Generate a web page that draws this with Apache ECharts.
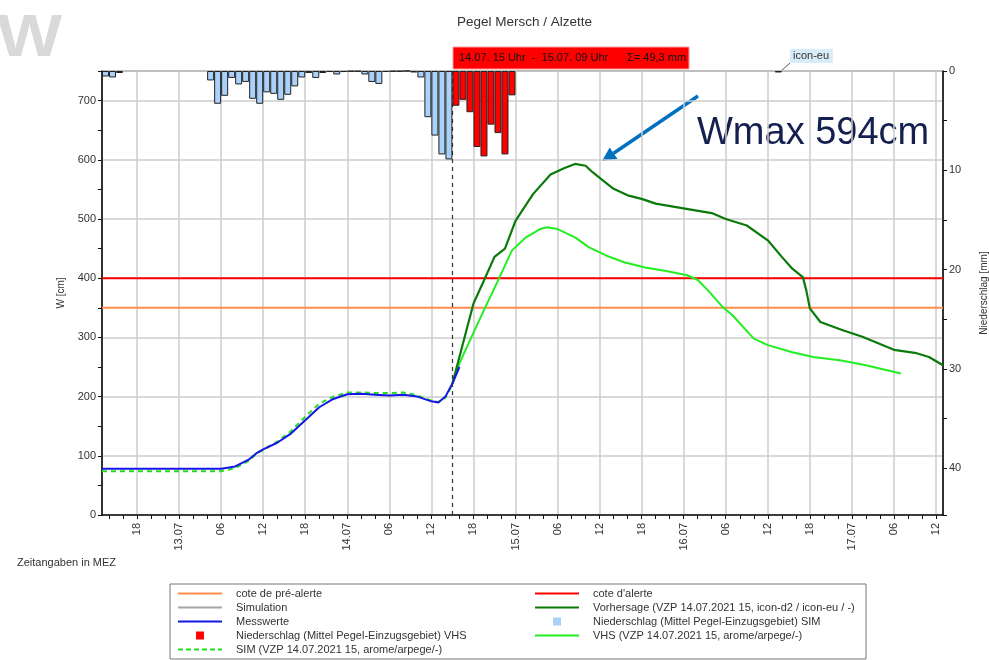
<!DOCTYPE html>
<html>
<head>
<meta charset="utf-8">
<title>Pegel Mersch / Alzette</title>
<script src="https://cdn.jsdelivr.net/npm/echarts@6/dist/echarts.min.js"></script>
<style>
  html, body { margin: 0; padding: 0; background: #fff; }
  #chart { width: 989px; height: 660px; }
</style>
</head>
<body>
<div id="chart"></div>
<script>
// x = hours since 12.07.2021 00:00 (MEZ)
var tMin = 13
var tMax = 133
var labelHours = [18, 24, 30, 36, 42, 48, 54, 60, 66, 72, 78, 84, 90, 96, 102, 108, 114, 120, 126, 132]

var alertLevel = 400
var preAlertLevel = 350

// Messwerte
var messT = [13, 30, 32, 34, 35, 36, 38, 40, 42, 44, 46, 48, 50, 52, 54, 56, 58, 60, 61, 62, 63, 64]
var messW = [78, 78, 82, 94, 104, 111, 122, 138, 160, 182, 196, 204, 205, 203, 202, 203, 200, 192, 190, 200, 222, 250]

// SIM (VZP 14.07.2021 15, arome/arpege/-)
var simT = [13, 30, 32, 34, 35, 36, 38, 40, 42, 44, 46, 48, 50, 52, 54, 56, 58, 60, 61, 62, 63]
var simW = [74, 74, 79, 92, 103, 110, 124, 142, 166, 188, 200, 207, 207, 206, 206, 207, 202, 193, 191, 198, 220]

// Vorhersage (icon-d2 / icon-eu)
var vorT = [63, 64, 65, 66, 67.5, 69, 70.5, 72, 74.5, 77, 79, 80.5, 82, 83, 84.5, 86, 88, 90, 92, 94.5, 98.5, 100, 102, 105, 108, 110, 111.5, 113, 113.5, 114, 115.5, 118.5, 121.5, 126, 129, 131, 133]
var vorW = [222, 267, 312, 357, 396, 436, 450, 497, 542, 575, 586, 593, 590, 579, 565, 551, 540, 534, 526, 521, 513, 510, 500, 489, 464, 436, 416, 402, 379, 349, 326, 313, 301, 279, 274, 267, 253]

// VHS (arome/arpege)
var vhsT = [63, 64, 65.5, 67.5, 69.5, 71.5, 73.5, 75.5, 76.5, 78, 80.5, 82.5, 85, 87.5, 90.5, 93.5, 96.5, 98, 99.5, 101.5, 103, 106, 108, 111.5, 114.5, 118.5, 122, 127]
var vhsW = [222, 256, 295, 346, 396, 447, 469, 483, 486, 483, 469, 452, 438, 427, 418, 412, 405, 397, 379, 352, 337, 298, 287, 275, 267, 261, 253, 239]

// Niederschlag, hourly sums [mm], hour start
var rainSimHour = [13, 14, 15, 28, 29, 30, 31, 32, 33, 34, 35, 36, 37, 38, 39, 40, 41, 42, 43, 44, 45, 46, 47, 48, 49, 50, 51, 52, 53, 54, 55, 56, 57, 58, 59, 60, 61, 62]
var rainSimMm = [0.55, 0.65, 0.2, 0.95, 3.3, 2.5, 0.7, 1.35, 1.1, 2.8, 3.3, 2.15, 2.3, 2.9, 2.4, 1.55, 0.65, 0.2, 0.7, 0.2, 0.1, 0.35, 0.1, 0.05, 0.05, 0.35, 1.1, 1.3, 0.1, 0.05, 0.05, 0, 0.15, 0.65, 4.65, 6.5, 8.4, 8.9]
var rainVhsHour = [63, 64, 65, 66, 67, 68, 69, 70, 71, 109]
var rainVhsMm = [3.5, 2.9, 4.15, 7.65, 8.6, 5.4, 6.25, 8.4, 2.45, 0.15]

var forecastStart = 63

function zip(xs, ys) {
  return xs.map(function (x, i) { return [x, ys[i]] })
}
function bars(hours, mm) {
  return hours.map(function (h, i) { return [h + 0.5, mm[i]] })
}
function pad(n) {
  return (n < 10 ? '0' : '') + n
}

var tickHours = []
for (var t = 14; t <= 132; t += 2) tickHours.push(t)

var font = 'Liberation Sans, Arial, sans-serif'
var names = {
  pre: 'cote de pré-alerte',
  alert: 'cote d\'alerte',
  simu: 'Simulation',
  vor: 'Vorhersage (VZP 14.07.2021 15, icon-d2 / icon-eu / -)',
  mess: 'Messwerte',
  rainSim: 'Niederschlag (Mittel Pegel-Einzugsgebiet) SIM',
  rainVhs: 'Niederschlag (Mittel Pegel-Einzugsgebiet) VHS',
  vhs: 'VHS (VZP 14.07.2021 15, arome/arpege/-)',
  sim: 'SIM (VZP 14.07.2021 15, arome/arpege/-)'
}
// legend icons, 44x10 boxes (tiny corner dots keep the box size)
var box = 'M0,0 L0.01,0 L0,0.01 Z M44,10 L43.99,10 L44,9.99 Z '
var squareIcon = 'path://' + box + 'M18,1 L26,1 L26,9 L18,9 Z'
var lineIcon = 'path://' + box + 'M0,4 L44,4 L44,6 L0,6 Z'
var dashIcon = 'path://' + box + 'M0,4 h5 v2 h-5 Z M8,4 h5 v2 h-5 Z M16,4 h5 v2 h-5 Z M24,4 h5 v2 h-5 Z M32,4 h5 v2 h-5 Z M40,4 h4 v2 h-4 Z'

function legendBox(left, items) {
  return {
    left: left,
    top: 588,
    orient: 'vertical',
    padding: 0,
    itemWidth: 44,
    itemHeight: 10,
    itemGap: 3,
    selectedMode: false,
    textStyle: { fontFamily: font, fontSize: 11, color: '#333', padding: [0, 0, 0, 9] },
    data: items
  }
}

var chart = echarts.init(document.getElementById('chart'))

chart.setOption({
  animation: false,
  title: {
    text: 'Pegel Mersch / Alzette',
    left: 452,
    top: 10,
    textStyle: { fontFamily: font, fontSize: 13.5, fontWeight: 'normal', color: '#333' }
  },
  grid: {
    left: 102,
    right: 46,
    top: 71,
    bottom: 145,
    outerBoundsMode: 'none',
    show: true,
    borderColor: '#333',
    borderWidth: 1
  },
  legend: [
    legendBox(178, [
      { name: names.pre, icon: lineIcon },
      { name: names.simu, icon: lineIcon },
      { name: names.mess, icon: lineIcon },
      { name: names.rainVhs, icon: squareIcon, itemStyle: { borderWidth: 0 } },
      { name: names.sim, icon: dashIcon }
    ]),
    legendBox(535, [
      { name: names.alert, icon: lineIcon },
      { name: names.vor, icon: lineIcon },
      { name: names.rainSim, icon: squareIcon, itemStyle: { borderWidth: 0 } },
      { name: names.vhs, icon: lineIcon }
    ])
  ],
  xAxis: [{
    type: 'value',
    min: tMin,
    max: tMax,
    axisLine: { lineStyle: { color: '#111', width: 1.5 } },
    axisTick: { customValues: tickHours, length: 4, lineStyle: { color: '#111' } },
    axisLabel: {
      customValues: labelHours,
      rotate: 90,
      margin: 8,
      fontFamily: font,
      fontSize: 11,
      color: '#333',
      formatter: function (v) {
        if (v % 24 === 0) return pad(12 + v / 24) + '.07'
        return pad(v % 24)
      }
    },
    splitLine: { show: false }
  }, {
    type: 'value',
    min: tMin,
    max: tMax,
    axisLine: { show: false },
    axisTick: { show: false, customValues: labelHours },
    axisLabel: { show: false },
    splitLine: { show: true, lineStyle: { color: '#cccccc', width: 1.5 } }
  }],
  yAxis: [{
    type: 'value',
    min: 0,
    max: 750,
    interval: 100,
    name: 'W [cm]',
    nameLocation: 'middle',
    nameGap: 33,
    nameTextStyle: { fontFamily: font, fontSize: 10, color: '#333' },
    axisLine: { show: true, lineStyle: { color: '#111', width: 1.5 } },
    axisTick: { show: true, length: 4, lineStyle: { color: '#111' } },
    minorTick: { show: true, splitNumber: 2, length: 4, lineStyle: { color: '#111' } },
    axisLabel: { showMaxLabel: false, margin: 6, fontFamily: font, fontSize: 11, color: '#333' },
    splitLine: { lineStyle: { color: '#cccccc', width: 1.5 } }
  }, {
    type: 'value',
    position: 'right',
    inverse: true,
    min: 0,
    max: 44.7,
    interval: 10,
    name: 'Niederschlag [mm]',
    nameLocation: 'middle',
    nameGap: 36,
    nameTextStyle: { fontFamily: font, fontSize: 10, color: '#333' },
    axisLine: { show: true, lineStyle: { color: '#111', width: 1.5 } },
    axisTick: { show: true, length: 4, lineStyle: { color: '#111' } },
    minorTick: { show: true, splitNumber: 2, length: 4, lineStyle: { color: '#111' } },
    axisLabel: { showMaxLabel: false, margin: 6, fontFamily: font, fontSize: 11, color: '#333' },
    splitLine: { show: false }
  }],
  series: [
    {
      name: names.pre,
      type: 'line',
      symbol: 'none',
      data: [[tMin, preAlertLevel], [tMax, preAlertLevel]],
      lineStyle: { color: '#ff8c4a', width: 2 },
      itemStyle: { color: '#ff8c4a' }
    },
    {
      name: names.alert,
      type: 'line',
      symbol: 'none',
      data: [[tMin, alertLevel], [tMax, alertLevel]],
      lineStyle: { color: '#ff0000', width: 2 },
      itemStyle: { color: '#ff0000' }
    },
    {
      name: names.simu,
      type: 'line',
      symbol: 'none',
      data: [],
      lineStyle: { color: '#a6a6a6', width: 2 },
      itemStyle: { color: '#a6a6a6' }
    },
    {
      name: names.sim,
      type: 'line',
      symbol: 'none',
      data: zip(simT, simW),
      lineStyle: { color: '#22dd22', width: 2, type: [5, 4] },
      itemStyle: { color: '#22dd22' }
    },
    {
      name: names.vhs,
      type: 'line',
      symbol: 'none',
      data: zip(vhsT, vhsW),
      lineStyle: { color: '#22ee22', width: 2 },
      itemStyle: { color: '#22ee22' }
    },
    {
      name: names.vor,
      type: 'line',
      symbol: 'none',
      data: zip(vorT, vorW),
      lineStyle: { color: '#0a7a0a', width: 2.2 },
      itemStyle: { color: '#0a7a0a' }
    },
    {
      name: names.mess,
      type: 'line',
      symbol: 'none',
      data: zip(messT, messW),
      lineStyle: { color: '#1515e6', width: 2 },
      itemStyle: { color: '#1515e6' },
      markLine: {
        silent: true,
        symbol: 'none',
        label: { show: false },
        lineStyle: { color: '#333', type: [4, 4], width: 1.2 },
        data: [{ xAxis: forecastStart }]
      }
    },
    {
      name: names.rainSim,
      type: 'bar',
      yAxisIndex: 1,
      z: 5,
      barWidth: 7,
      barGap: '-100%',
      data: bars(rainSimHour, rainSimMm),
      itemStyle: { color: '#a9d1fa', borderColor: '#222', borderWidth: 1 }
    },
    {
      name: names.rainVhs,
      type: 'bar',
      yAxisIndex: 1,
      z: 5,
      barWidth: 7,
      barGap: '-100%',
      data: bars(rainVhsHour, rainVhsMm),
      itemStyle: { color: '#ff0000', borderColor: '#222', borderWidth: 1 }
    }
  ],
  graphic: [
    {
      type: 'text', x: -3, y: 9, scaleX: 1.15,
      style: { text: 'W', fontFamily: font, fontSize: 60, fontWeight: 'bold', fill: '#d9d9d9' }
    },
    {
      type: 'rect', shape: { x: 453, y: 47, width: 236, height: 22 }, z: 10,
      style: { fill: '#ff0000', stroke: '#ff9a9a', lineWidth: 1 }
    },
    {
      type: 'text', x: 459, y: 58, z: 11,
      style: { text: '14.07. 15 Uhr  -  15.07. 09 Uhr', fontFamily: font, fontSize: 11, fill: '#111', verticalAlign: 'middle' }
    },
    {
      type: 'text', x: 627, y: 58, z: 11,
      style: { text: 'Σ= 49,3 mm', fontFamily: font, fontSize: 11, fill: '#111', verticalAlign: 'middle' }
    },
    {
      type: 'line', shape: { x1: 781, y1: 71, x2: 790, y2: 63 },
      style: { stroke: '#555', lineWidth: 1 }
    },
    {
      type: 'rect', shape: { x: 790, y: 49, width: 43, height: 14 },
      style: { fill: '#d7ecf8' }
    },
    {
      type: 'text', x: 793, y: 56,
      style: { text: 'icon-eu', fontFamily: font, fontSize: 11, fill: '#333', verticalAlign: 'middle' }
    },
    {
      type: 'text', x: 697, y: 134,
      style: { text: 'Wmax 594cm', fontFamily: font, fontSize: 38, fill: '#14204f', verticalAlign: 'middle' }
    },
    {
      type: 'line', shape: { x1: 698, y1: 96, x2: 613.6, y2: 153.2 },
      style: { stroke: '#0070c0', lineWidth: 3.5 }
    },
    {
      type: 'polygon', shape: { points: [[602, 161], [617.5, 159], [609.7, 147.4]] },
      style: { fill: '#0070c0' }
    },
    {
      type: 'text', x: 17, y: 563,
      style: { text: 'Zeitangaben in MEZ', fontFamily: font, fontSize: 11, fill: '#333', verticalAlign: 'middle' }
    },
    {
      type: 'rect', shape: { x: 170, y: 584, width: 696, height: 75 },
      style: { fill: 'none', stroke: '#777', lineWidth: 1 }
    }
  ]
})
</script>
</body>
</html>
